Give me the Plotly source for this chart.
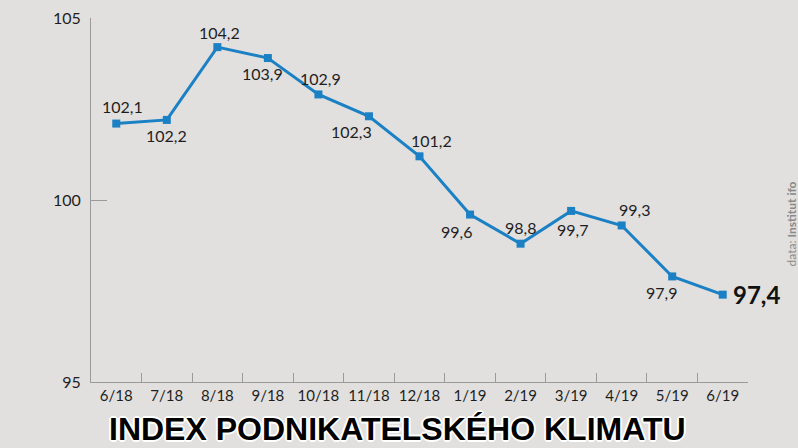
import plotly.graph_objects as go

months = ["6/18", "7/18", "8/18", "9/18", "10/18", "11/18", "12/18",
          "1/19", "2/19", "3/19", "4/19", "5/19", "6/19"]
index_values = [102.1, 102.2, 104.2, 103.9, 102.9, 102.3, 101.2,
                99.6, 98.8, 99.7, 99.3, 97.9, 97.4]
y_ticks = [95, 100, 105]

# label offsets in pixels (style only)
label_dx = [6, 0, 2, -5, 2, -17, 12, -14, 0, 1, 13, -11]
label_dy = [17, -16, 15, -15, 16, -15, 16, -17, 16, -19, 16, -16]

labels = [f"{v:.1f}".replace(".", ",") for v in index_values]

line_color = "#1b80c4"
axis_color = "#9a9a9a"
bg_color = "#e1e0de"
font_family = "Lato, 'Open Sans', sans-serif"

fig = go.Figure()
fig.add_trace(go.Scatter(
    x=months, y=index_values, mode="lines+markers",
    line=dict(color=line_color, width=3),
    marker=dict(symbol="square", size=8, color=line_color),
    cliponaxis=False, hoverinfo="skip",
))

for m, v, lab, dx, dy in zip(months[:-1], index_values[:-1], labels[:-1], label_dx, label_dy):
    fig.add_annotation(x=m, y=v, text=lab, showarrow=False, xanchor="center",
                       yanchor="middle", xshift=dx, yshift=dy,
                       font=dict(family=font_family, size=16, color="#1e1e1e"))

fig.add_annotation(x=months[-1], y=index_values[-1], text=f"<b>{labels[-1]}</b>",
                   showarrow=False, xanchor="left", xshift=8,
                   font=dict(family=font_family, size=24, color="#111111"))

fig.add_annotation(xref="paper", yref="paper", x=0.467, y=-0.13, yanchor="middle",
                   xanchor="center", showarrow=False,
                   text="<b>INDEX PODNIKATELSKÉHO KLIMATU</b>",
                   font=dict(family="Liberation Sans, Arial, sans-serif", size=32, color="#000000",
                             shadow="2px 0 0 #fff, -2px 0 0 #fff, 0 2px 0 #fff, 0 -2px 0 #fff, 1px 1px 0 #fff, -1px -1px 0 #fff, 1px -1px 0 #fff, -1px 1px 0 #fff"))

fig.add_annotation(xref="paper", yref="paper", x=1.066, y=0.434, showarrow=False,
                   textangle=-90, xanchor="center", yanchor="middle",
                   text="data: <b>Institut ifo</b>",
                   font=dict(family=font_family, size=12, color="#8a8a8a"))

fig.update_xaxes(
    type="category", range=[-0.5, 12.5], showline=True, linecolor=axis_color, linewidth=1,
    ticks="inside", tickson="boundaries", ticklen=9, tickcolor=axis_color,
    showgrid=False, zeroline=False, tickangle=0, automargin=False,
    tickfont=dict(family=font_family, size=15, color="#1e1e1e"),
)
fig.update_yaxes(
    range=[95, 105], tickvals=y_ticks, ticktext=[str(t) for t in y_ticks],
    showline=True, linecolor=axis_color, linewidth=1,
    ticks="inside", ticklen=16, tickcolor=axis_color,
    showgrid=False, zeroline=False, ticklabelstandoff=6, automargin=False,
    tickfont=dict(family=font_family, size=16, color="#1e1e1e"),
)

fig.update_layout(
    width=798, height=448,
    margin=dict(l=91, r=50, t=18, b=66, autoexpand=False),
    paper_bgcolor=bg_color, plot_bgcolor="rgba(0,0,0,0)",
    showlegend=False,
)

fig.write_html(
    "out.html",
    config={"displayModeBar": False},
    post_script=f"document.body.style.margin='0';document.body.style.background='{bg_color}';",
)
